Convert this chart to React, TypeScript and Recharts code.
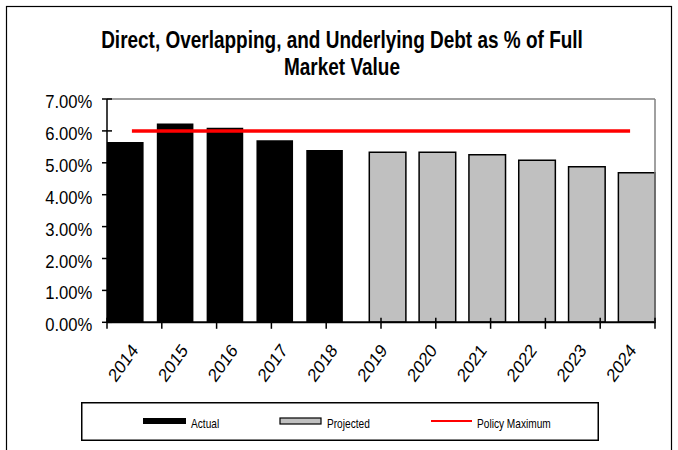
import React from 'react';
import { ComposedChart, Bar, Line, XAxis, YAxis, ReferenceLine, Legend } from 'recharts';

const years = ['2014', '2015', '2016', '2017', '2018', '2019', '2020', '2021', '2022', '2023', '2024'];
const actualValues = [5.65, 6.23, 6.1, 5.71, 5.4, null, null, null, null, null, null];
const projectedValues = [null, null, null, null, null, 5.33, 5.33, 5.25, 5.08, 4.88, 4.69];
const policyMaximum = [6, 6, 6, 6, 6, 6, 6, 6, 6, 6, 6];
const yTicks = [0, 1, 2, 3, 4, 5, 6, 7];
const boundaryTicks = [0, 1, 2, 3, 4, 5, 6, 7, 8, 9, 10, 11];
const seriesNames = ['Actual', 'Projected', 'Policy Maximum'];
const titleLines = ['Direct, Overlapping, and Underlying Debt as % of Full', 'Market Value'];

const data = years.map((year, i) => ({
  year,
  actual: actualValues[i],
  projected: projectedValues[i],
  policy: policyMaximum[i],
}));

const FONT = '"Liberation Sans", Arial, sans-serif';

const XTick = (props: any) => {
  const { x, y, payload } = props;
  return (
    <g transform={`translate(${x + 7},${y + 28.5}) scale(0.85,1) rotate(-50)`}>
      <text x={0} y={0} textAnchor="end" fontSize={19} fontFamily={FONT} fill="#000">
        {payload.value}
      </text>
    </g>
  );
};

const BoundaryTick = (props: any) => {
  const { x, y } = props;
  return <line x1={x} x2={x} y1={y - 5.5} y2={y + 5.5} stroke="#000" strokeWidth={1.5} />;
};

const YTick = (props: any) => {
  const { x, y, payload } = props;
  return (
    <g>
      <line x1={x - 5} x2={x + 5} y1={y} y2={y} stroke="#000" strokeWidth={1.5} />
      <g transform={`translate(${x - 14.6},${y + 9}) scale(0.9,1)`}>
        <text x={0} y={0} textAnchor="end" fontSize={18.5} fontFamily={FONT} fill="#000">
          {`${Number(payload.value).toFixed(2)}%`}
        </text>
      </g>
    </g>
  );
};

const legendSwatchX = [62, 199, 350];
const legendTextX = [110, 246, 396];

const renderLegend = (props: any) => {
  const payload = (props.payload || []).slice();
  const order = ['actual', 'projected', 'policy'];
  payload.sort((a: any, b: any) => order.indexOf(a.dataKey) - order.indexOf(b.dataKey));
  return (
    <svg width={518} height={40} style={{ display: 'block' }}>
      <rect x={0.75} y={0.75} width={516.5} height={37.5} fill="#fff" stroke="#000" strokeWidth={1.5} />
      {payload.map((entry: any, i: number) => {
        const sx = legendSwatchX[i];
        let swatch;
        if (entry.dataKey === 'actual') {
          swatch = <rect x={sx} y={16} width={43} height={6} fill="#000" />;
        } else if (entry.dataKey === 'projected') {
          swatch = <rect x={sx} y={16} width={41} height={6} fill="#C0C0C0" stroke="#000" strokeWidth={1.2} />;
        } else {
          swatch = <line x1={sx} x2={sx + 41} y1={19} y2={19} stroke="#FF0000" strokeWidth={2} />;
        }
        return (
          <g key={entry.dataKey}>
            {swatch}
            <g transform={`translate(${legendTextX[i]},${25.5}) scale(0.78,1)`}>
              <text x={0} y={0} fontSize={13} fontFamily={FONT} fill="#000">
                {entry.value}
              </text>
            </g>
          </g>
        );
      })}
    </svg>
  );
};

export default function App() {
  return (
    <div style={{ position: 'absolute', left: 0, top: 0, width: 678, height: 450, background: '#fff' }}>
      <ComposedChart
        width={678}
        height={450}
        data={data}
        margin={{ top: 99, right: 22, bottom: 125.7, left: 0 }}
        barCategoryGap={0}
        barGap={-23.4}
        barSize={36.6}
      >
        <XAxis
          dataKey="year"
          height={1}
          interval={0}
          tickLine={false}
          tickSize={0}
          tickMargin={0}
          axisLine={{ stroke: '#000', strokeWidth: 2 }}
          tick={<XTick />}
        />
        <XAxis
          xAxisId="grid"
          type="number"
          domain={[0, 11]}
          allowDataOverflow
          ticks={boundaryTicks}
          interval={0}
          height={1}
          axisLine={false}
          tickLine={false}
          tickSize={0}
          tickMargin={0}
          tick={<BoundaryTick />}
        />
        <YAxis
          width={107}
          domain={[0, 7]}
          ticks={yTicks}
          interval={0}
          tickLine={false}
          tickSize={0}
          tickMargin={0}
          axisLine={{ stroke: '#000', strokeWidth: 1.5 }}
          tick={<YTick />}
        />
        <YAxis
          yAxisId="right"
          orientation="right"
          width={1}
          domain={[0, 7]}
          ticks={yTicks}
          tick={false}
          tickLine={false}
          axisLine={{ stroke: '#808080', strokeWidth: 1.5 }}
        />
        <ReferenceLine y={7} stroke="#808080" strokeWidth={1.5} />
        <Bar dataKey="actual" name={seriesNames[0]} fill="#000" isAnimationActive={false} />
        <Bar
          dataKey="projected"
          name={seriesNames[1]}
          fill="#C0C0C0"
          stroke="#000"
          strokeWidth={1.5}
          isAnimationActive={false}
        />
        <Line
          dataKey="policy"
          name={seriesNames[2]}
          type="linear"
          stroke="#FF0000"
          strokeWidth={3.5}
          dot={false}
          activeDot={false}
          isAnimationActive={false}
        />
        <Legend
          layout="horizontal"
          verticalAlign="middle"
          align="center"
          wrapperStyle={{ left: 81, top: 402, width: 518, height: 40 }}
          content={renderLegend}
        />
      </ComposedChart>
      <svg
        width={678}
        height={450}
        style={{ position: 'absolute', left: 0, top: 0, pointerEvents: 'none' }}
      >
        <rect x={6.5} y={6.5} width={665} height={470} fill="none" stroke="#000" strokeWidth={1.2} />
        {titleLines.map((line, i) => (
          <g key={i} transform={`translate(342,${48 + i * 27}) scale(0.825,1)`}>
            <text x={0} y={0} textAnchor="middle" fontSize={23} fontWeight="bold" fontFamily={FONT} fill="#000">
              {line}
            </text>
          </g>
        ))}
      </svg>
    </div>
  );
}
